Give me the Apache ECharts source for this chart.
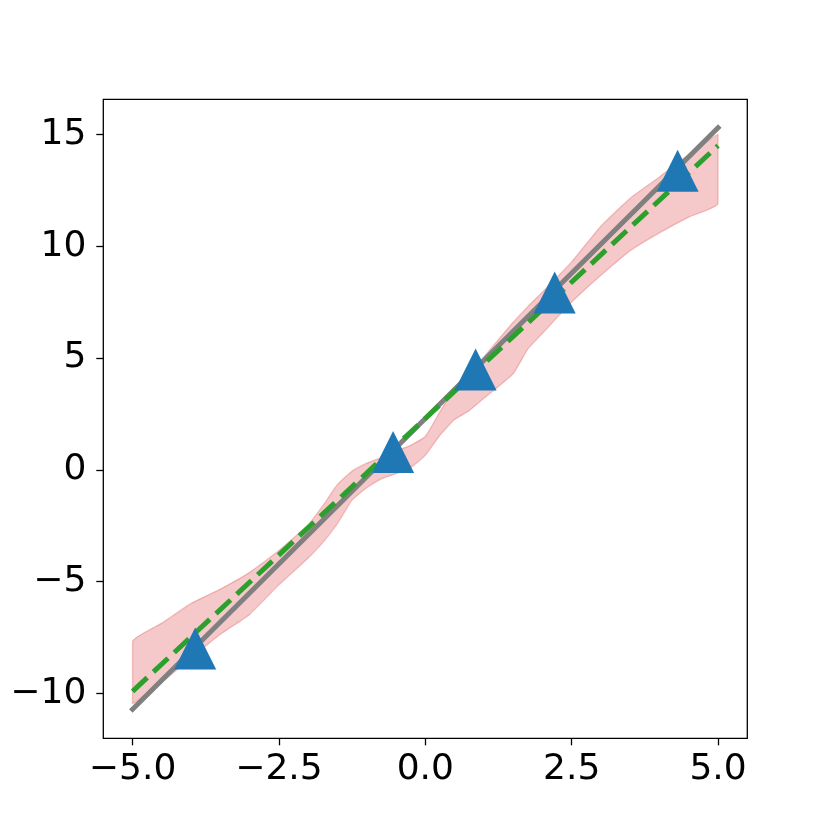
<!DOCTYPE html>
<html>
<head>
<meta charset="utf-8">
<script src="https://cdn.jsdelivr.net/npm/echarts@6/dist/echarts.min.js"></script>
<style>
  html, body { margin: 0; padding: 0; background: #fff; }
  #chart { width: 830px; height: 830px; }
</style>
</head>
<body>
<div id="chart"></div>
<script>
// ---- data ----
const bandX     = [-5, -4.5, -4, -3.5, -3, -2.5, -2, -1.75, -1.5, -1.25, -1, -0.75, -0.5, -0.25, 0, 0.25, 0.5, 0.75, 1, 1.5, 1.75, 2, 2.5, 3, 3.5, 4, 4.5, 5];
const bandUpper = [-7.66, -6.85, -5.97, -5.33, -4.58, -3.6, -2.45, -1.6, -0.65, -0.05, 0.3, 0.55, 0.85, 1.1, 1.5, 2.6, 3.65, 4.3, 5.05, 6.6, 7.3, 7.95, 9.3, 10.9, 12.15, 13.1, 14.1, 15.0];
const bandLower = [-10.45, -9.49, -8.41, -7.35, -6.46, -5.14, -3.94, -3.25, -2.4, -1.35, -0.8, -0.4, -0.17, 0.1, 0.65, 1.55, 2.25, 2.65, 3.2, 4.3, 5.4, 6.1, 7.5, 8.7, 9.8, 10.6, 11.3, 11.9];

const trueX = [-5, 5];
const trueY = [-10.7, 15.3];

const fitX = [-5, 5];
const fitY = [-9.9, 14.5];

const obsX = [-3.93, -0.55, 0.86, 2.21, 4.31];
const obsY = [-7.99, 0.8, 4.49, 7.93, 13.37];

const xTicks = [-5, -2.5, 0, 2.5, 5];
const yTicks = [-10, -5, 0, 5, 10, 15];

// ---- chart ----
const chart = echarts.init(document.getElementById('chart'), null, { renderer: 'canvas' });
const zip = (a, b) => a.map((v, i) => [v, b[i]]);
const fmt = (v, d) => (v < 0 ? '\u2212' : '') + Math.abs(v).toFixed(d);

const labelFont = { fontFamily: 'DejaVu Sans', fontSize: 36, color: '#000' };

chart.setOption({
  animation: false,
  backgroundColor: '#fff',
  grid: {
    left: 103.3, right: 82.7, top: 99.3, bottom: 91.7,
    show: true, borderColor: '#000', borderWidth: 1.3, backgroundColor: 'transparent',
    containLabel: false, outerBoundsMode: 'none'
  },
  xAxis: {
    type: 'value', min: -5.5, max: 5.5,
    splitLine: { show: false },
    axisLine: { show: false, onZero: false },
    axisTick: { show: true, length: 7, lineStyle: { color: '#000', width: 1.3 }, customValues: xTicks },
    axisLabel: Object.assign({ margin: 13, customValues: xTicks, formatter: v => fmt(v, 1) }, labelFont)
  },
  yAxis: {
    type: 'value', min: -12.0, max: 16.57,
    splitLine: { show: false },
    axisLine: { show: false, onZero: false },
    axisTick: { show: true, length: 7, lineStyle: { color: '#000', width: 1.3 }, customValues: yTicks },
    axisLabel: Object.assign({ margin: 17, padding: [6, 0, 0, 0], customValues: yTicks, formatter: v => fmt(v, 0) }, labelFont)
  },
  series: [
    {
      type: 'custom',
      z: 1,
      data: [[0, 0]],
      renderItem: function (params, api) {
        const pts = [];
        for (let i = 0; i < bandX.length; i++) pts.push(api.coord([bandX[i], bandUpper[i]]));
        for (let i = bandX.length - 1; i >= 0; i--) pts.push(api.coord([bandX[i], bandLower[i]]));
        let x0 = Infinity, y0 = Infinity, x1 = -Infinity, y1 = -Infinity;
        pts.forEach(p => { x0 = Math.min(x0, p[0]); y0 = Math.min(y0, p[1]); x1 = Math.max(x1, p[0]); y1 = Math.max(y1, p[1]); });
        return {
          type: 'polygon',
          shape: { points: pts, smooth: 0.15, smoothConstraint: [[x0, y0], [x1, y1]] },
          style: { fill: 'rgba(214,39,40,0.25)', stroke: 'rgba(214,39,40,0.25)', lineWidth: 1.3 }
        };
      }
    },
    {
      type: 'line', z: 2, data: zip(trueX, trueY), symbol: 'none',
      lineStyle: { color: '#808080', width: 5, cap: 'square' }
    },
    {
      type: 'line', z: 3, data: zip(fitX, fitY), symbol: 'none',
      lineStyle: { color: '#2ca02c', width: 5, type: [20, 8.5], cap: 'butt' }
    },
    {
      type: 'scatter', z: 4, data: zip(obsX, obsY), symbol: 'triangle', symbolSize: 42,
      itemStyle: { color: '#1f77b4', opacity: 1 }
    }
  ]
});
</script>
</body>
</html>
